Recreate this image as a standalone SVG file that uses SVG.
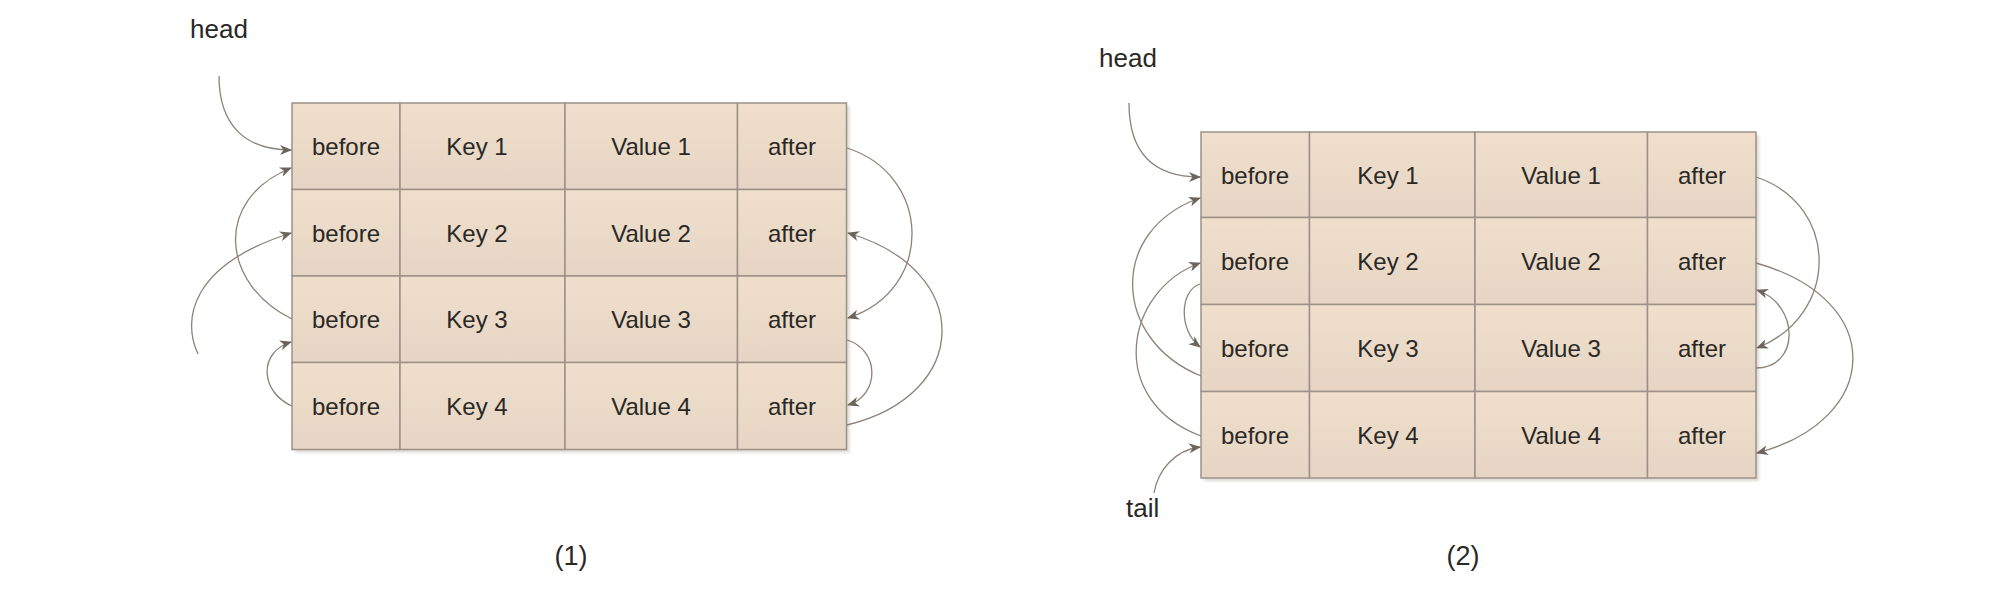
<svg xmlns="http://www.w3.org/2000/svg" width="2000" height="591" viewBox="0 0 2000 591">
<defs>
<linearGradient id="cellFill" x1="0" y1="0" x2="0" y2="1">
<stop offset="0" stop-color="#efdfcc"/>
<stop offset="1" stop-color="#e6d5c4"/>
</linearGradient>
<marker id="arr" viewBox="0 0 12 10" refX="11" refY="5" markerWidth="12" markerHeight="10" markerUnits="userSpaceOnUse" orient="auto">
<path d="M0,0 L12,5 L0,10 L3.5,5 z" fill="#6b645d"/>
</marker>
<filter id="sh" x="-5%" y="-5%" width="112%" height="112%">
<feGaussianBlur stdDeviation="1.5"/>
</filter>
</defs>
<style>
.cell{fill:url(#cellFill);stroke:#9d9188;stroke-width:1.5}
.t{font-family:"Liberation Sans",Arial,sans-serif;font-size:24px;fill:#2a2825;text-anchor:middle}
.lbl{font-family:"Liberation Sans",Arial,sans-serif;font-size:26px;fill:#2a2825}
.cap{font-family:"Liberation Sans",Arial,sans-serif;font-size:27px;fill:#2a2825;text-anchor:middle}
.c{fill:none;stroke:#8c8279;stroke-width:1.3;marker-end:url(#arr)}
.c0{fill:none;stroke:#8c8279;stroke-width:1.3}
.shadow{fill:#cfc8c1;opacity:0.7;filter:url(#sh)}
</style>
<rect width="2000" height="591" fill="#ffffff"/>

<!-- Diagram (1) -->
<rect class="shadow" x="295" y="106" width="554.5" height="346.5"/>
<g id="t1-row1">
<rect class="cell" x="292" y="103" width="108" height="86.5"/>
<rect class="cell" x="400" y="103" width="165" height="86.5"/>
<rect class="cell" x="565" y="103" width="172.5" height="86.5"/>
<rect class="cell" x="737.5" y="103" width="109" height="86.5"/>
<text class="t" x="346" y="155">before</text>
<text class="t" x="477" y="155">Key 1</text>
<text class="t" x="651" y="155">Value 1</text>
<text class="t" x="792" y="155">after</text>
</g>
<g id="t1-row2">
<rect class="cell" x="292" y="189.5" width="108" height="86.5"/>
<rect class="cell" x="400" y="189.5" width="165" height="86.5"/>
<rect class="cell" x="565" y="189.5" width="172.5" height="86.5"/>
<rect class="cell" x="737.5" y="189.5" width="109" height="86.5"/>
<text class="t" x="346" y="241.5">before</text>
<text class="t" x="477" y="241.5">Key 2</text>
<text class="t" x="651" y="241.5">Value 2</text>
<text class="t" x="792" y="241.5">after</text>
</g>
<g id="t1-row3">
<rect class="cell" x="292" y="276" width="108" height="86.5"/>
<rect class="cell" x="400" y="276" width="165" height="86.5"/>
<rect class="cell" x="565" y="276" width="172.5" height="86.5"/>
<rect class="cell" x="737.5" y="276" width="109" height="86.5"/>
<text class="t" x="346" y="328">before</text>
<text class="t" x="477" y="328">Key 3</text>
<text class="t" x="651" y="328">Value 3</text>
<text class="t" x="792" y="328">after</text>
</g>
<g id="t1-row4">
<rect class="cell" x="292" y="362.5" width="108" height="87"/>
<rect class="cell" x="400" y="362.5" width="165" height="87"/>
<rect class="cell" x="565" y="362.5" width="172.5" height="87"/>
<rect class="cell" x="737.5" y="362.5" width="109" height="87"/>
<text class="t" x="346" y="414.5">before</text>
<text class="t" x="477" y="414.5">Key 4</text>
<text class="t" x="651" y="414.5">Value 4</text>
<text class="t" x="792" y="414.5">after</text>
</g>
<g id="t1-labels">
<text class="lbl" x="190" y="38">head</text>
<text class="cap" x="571" y="565">(1)</text>
</g>

<!-- Diagram (2) -->
<rect class="shadow" x="1204" y="135" width="555" height="346"/>
<g id="t2-row1">
<rect class="cell" x="1201" y="132" width="108.5" height="85.5"/>
<rect class="cell" x="1309.5" y="132" width="165.5" height="85.5"/>
<rect class="cell" x="1475" y="132" width="172.5" height="85.5"/>
<rect class="cell" x="1647.5" y="132" width="108.5" height="85.5"/>
<text class="t" x="1255" y="184">before</text>
<text class="t" x="1388" y="184">Key 1</text>
<text class="t" x="1561" y="184">Value 1</text>
<text class="t" x="1702" y="184">after</text>
</g>
<g id="t2-row2">
<rect class="cell" x="1201" y="217.5" width="108.5" height="87"/>
<rect class="cell" x="1309.5" y="217.5" width="165.5" height="87"/>
<rect class="cell" x="1475" y="217.5" width="172.5" height="87"/>
<rect class="cell" x="1647.5" y="217.5" width="108.5" height="87"/>
<text class="t" x="1255" y="270">before</text>
<text class="t" x="1388" y="270">Key 2</text>
<text class="t" x="1561" y="270">Value 2</text>
<text class="t" x="1702" y="270">after</text>
</g>
<g id="t2-row3">
<rect class="cell" x="1201" y="304.5" width="108.5" height="87"/>
<rect class="cell" x="1309.5" y="304.5" width="165.5" height="87"/>
<rect class="cell" x="1475" y="304.5" width="172.5" height="87"/>
<rect class="cell" x="1647.5" y="304.5" width="108.5" height="87"/>
<text class="t" x="1255" y="357">before</text>
<text class="t" x="1388" y="357">Key 3</text>
<text class="t" x="1561" y="357">Value 3</text>
<text class="t" x="1702" y="357">after</text>
</g>
<g id="t2-row4">
<rect class="cell" x="1201" y="391.5" width="108.5" height="86.5"/>
<rect class="cell" x="1309.5" y="391.5" width="165.5" height="86.5"/>
<rect class="cell" x="1475" y="391.5" width="172.5" height="86.5"/>
<rect class="cell" x="1647.5" y="391.5" width="108.5" height="86.5"/>
<text class="t" x="1255" y="443.5">before</text>
<text class="t" x="1388" y="443.5">Key 4</text>
<text class="t" x="1561" y="443.5">Value 4</text>
<text class="t" x="1702" y="443.5">after</text>
</g>
<g id="t2-labels">
<text class="lbl" x="1099" y="67">head</text>
<text class="lbl" x="1126" y="517">tail</text>
<text class="cap" x="1463" y="565">(2)</text>
</g>

<g id="connectors">
<!-- diagram 1 -->
<path class="c" d="M219,76 C219,125 245,150 291,150"/>
<path class="c" d="M292,319 C222,285 212,200 291,168"/>
<path class="c" d="M198,354 C182,320 190,265 291,233"/>
<path class="c" d="M292,406 C260,392 258,352 291,342"/>
<path class="c" d="M847,148 C932,175 935,290 848,318"/>
<path class="c" d="M847,425 C972,395 975,270 848,233"/>
<path class="c" d="M847,340 C880,350 880,395 848,405"/>
<!-- diagram 2 -->
<path class="c" d="M1129,103 C1129,150 1150,177 1200,177"/>
<path class="c" d="M1201,376 C1112,340 1108,230 1200,198"/>
<path class="c" d="M1201,436 C1105,400 1125,290 1200,263"/>
<path class="c" d="M1200,284 C1180,290 1178,330 1200,347"/>
<path class="c" d="M1154,493 C1158,470 1175,450 1200,447"/>
<path class="c" d="M1756,177 C1840,205 1840,315 1757,348"/>
<path class="c" d="M1756,263 C1888,300 1882,420 1757,453"/>
<path class="c" d="M1756,368 C1800,368 1800,305 1757,290"/>
</g>
</svg>
